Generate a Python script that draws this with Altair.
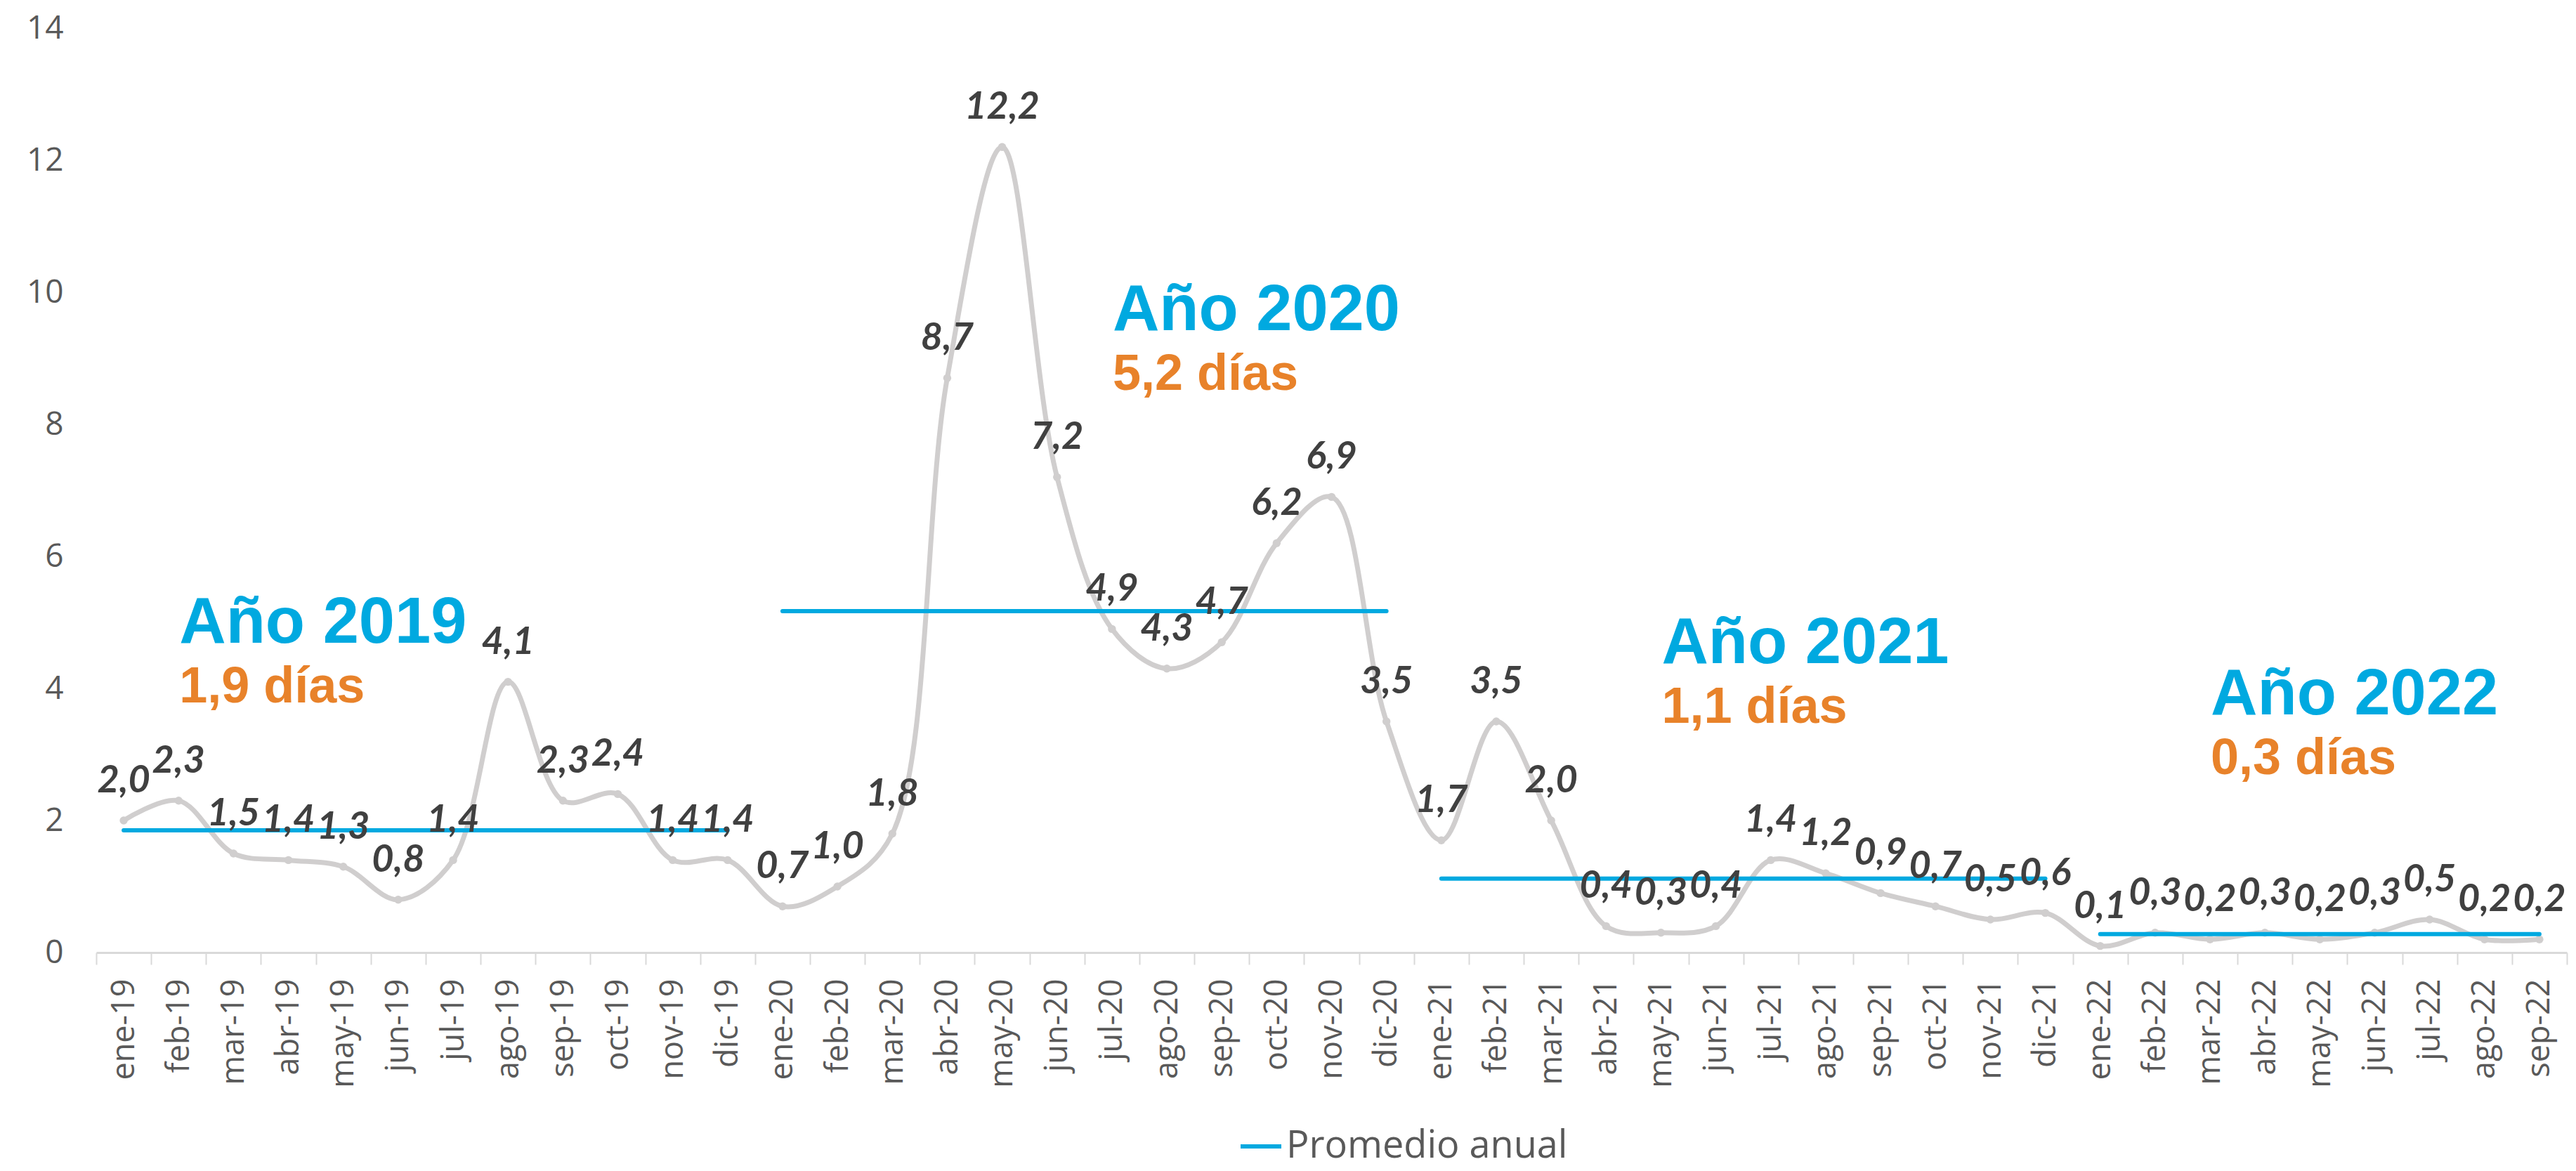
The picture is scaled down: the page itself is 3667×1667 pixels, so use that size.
import altair as alt
import pandas as pd

# ---- data ----
month_names = ["ene", "feb", "mar", "abr", "may", "jun", "jul", "ago", "sep", "oct", "nov", "dic"]
years = ["19", "20", "21", "22"]
values_2019 = [2.0, 2.3, 1.5, 1.4, 1.3, 0.8, 1.4, 4.1, 2.3, 2.4, 1.4, 1.4]
values_2020 = [0.7, 1.0, 1.8, 8.7, 12.2, 7.2, 4.9, 4.3, 4.7, 6.2, 6.9, 3.5]
values_2021 = [1.7, 3.5, 2.0, 0.4, 0.3, 0.4, 1.4, 1.2, 0.9, 0.7, 0.5, 0.6]
values_2022 = [0.1, 0.3, 0.2, 0.3, 0.2, 0.3, 0.5, 0.2, 0.2]

avg_years = ["2019", "2020", "2021", "2022"]
avg_values = [1.85, 5.17, 1.12, 0.28]
avg_start = ["ene-19", "ene-20", "ene-21", "ene-22"]
avg_end = ["dic-19", "dic-20", "dic-21", "sep-22"]

ann_titles = ["Año 2019", "Año 2020", "Año 2021", "Año 2022"]
ann_days = ["1,9 días", "5,2 días", "1,1 días", "0,3 días"]
ann_anchor = ["feb-19", "jul-20", "may-21", "mar-22"]
ann_y = [4.69, 9.43, 4.38, 3.61]

series = [values_2019, values_2020, values_2021, values_2022]
month_labels, month_values = [], []
for yy, vals in zip(years, series):
    for m, v in zip(month_names, vals):
        month_labels.append(f"{m}-{yy}")
        month_values.append(v)

df = pd.DataFrame({
    "mes": month_labels,
    "valor": month_values,
    "etiqueta": [f"{v:.1f}".replace(".", ",") for v in month_values],
})

avg_rows = []
for y, v, s, e in zip(avg_years, avg_values, avg_start, avg_end):
    avg_rows.append({"mes": s, "valor": v, "anio": y, "serie": "Promedio anual"})
    avg_rows.append({"mes": e, "valor": v, "anio": y, "serie": "Promedio anual"})
df_avg = pd.DataFrame(avg_rows)

df_ann = pd.DataFrame({"mes": ann_anchor, "valor": ann_y, "titulo": ann_titles, "dias": ann_days})

# ---- styles ----
GRAY = "#D0CECE"
BLUE = "#00A9E0"
ORANGE = "#E8822A"
TXT = "#595959"

x_scale = alt.Scale(domain=month_labels, type="band", paddingInner=0, paddingOuter=0)
y_scale = alt.Scale(domain=[0, 14])

x_axis = alt.Axis(
    title=None, labelAngle=-90, labelFont="Open Sans", labelFontSize=45, labelColor=TXT,
    labelPadding=20, tickBand="extent", ticks=True, tickSize=17, tickColor="#D9D9D9",
    tickWidth=2, domainColor="#D9D9D9", domainWidth=3, grid=False, labelLimit=400,
)
y_axis = alt.Axis(
    values=[0, 2, 4, 6, 8, 10, 12, 14], title=None, grid=False, domain=False, ticks=False,
    labelFont="Open Sans", labelFontSize=46, labelColor=TXT, labelPadding=47,
)


def X():
    return alt.X("mes:N", sort=month_labels, scale=x_scale, bandPosition=0.5, axis=x_axis)


def Y():
    return alt.Y("valor:Q", scale=y_scale, axis=y_axis)


base = alt.Chart(df)

line = base.mark_line(interpolate="catmull-rom", color=GRAY, strokeWidth=7).encode(x=X(), y=Y())
pts = base.mark_point(filled=True, color=GRAY, size=130, opacity=1).encode(x=X(), y=Y())
labels = base.mark_text(
    dy=-40, baseline="alphabetic", align="center", font="Lato", fontStyle="italic",
    fontWeight="bold", fontSize=54, color="#404040",
).encode(x=X(), y=Y(), text="etiqueta:N")

avg = alt.Chart(df_avg).mark_line(strokeWidth=6, strokeCap="round").encode(
    x=X(), y=Y(), detail="anio:N",
    color=alt.Color(
        "serie:N",
        scale=alt.Scale(domain=["Promedio anual"], range=[BLUE]),
        legend=alt.Legend(
            orient="none", legendX=1626, legendY=1560, title=None, symbolType="stroke",
            symbolStrokeWidth=6, symbolSize=3364, labelFont="Open Sans", labelFontSize=54,
            labelColor=TXT, labelOffset=4, padding=0, labelLimit=1000,
        ),
    ),
)

ann_title = alt.Chart(df_ann).mark_text(
    align="left", baseline="alphabetic", dx=1, font="Liberation Sans", fontWeight="bold",
    fontSize=92, color=BLUE,
).encode(x=X(), y=Y(), text="titulo:N")
ann_days_t = alt.Chart(df_ann).mark_text(
    align="left", baseline="alphabetic", dx=1, dy=85, font="Liberation Sans", fontWeight="bold",
    fontSize=72, color=ORANGE,
).encode(x=X(), y=Y(), text="dias:N")

chart = alt.layer(line, pts, avg, labels, ann_title, ann_days_t).properties(
    width=3517, height=1316,
    autosize=alt.AutoSizeParams(type="none"),
    padding={"left": 129, "top": 32, "right": 5, "bottom": 302},
    background="white",
).configure_view(stroke=None)

chart.save("out.html", embed_options={"renderer": "svg", "actions": False})
